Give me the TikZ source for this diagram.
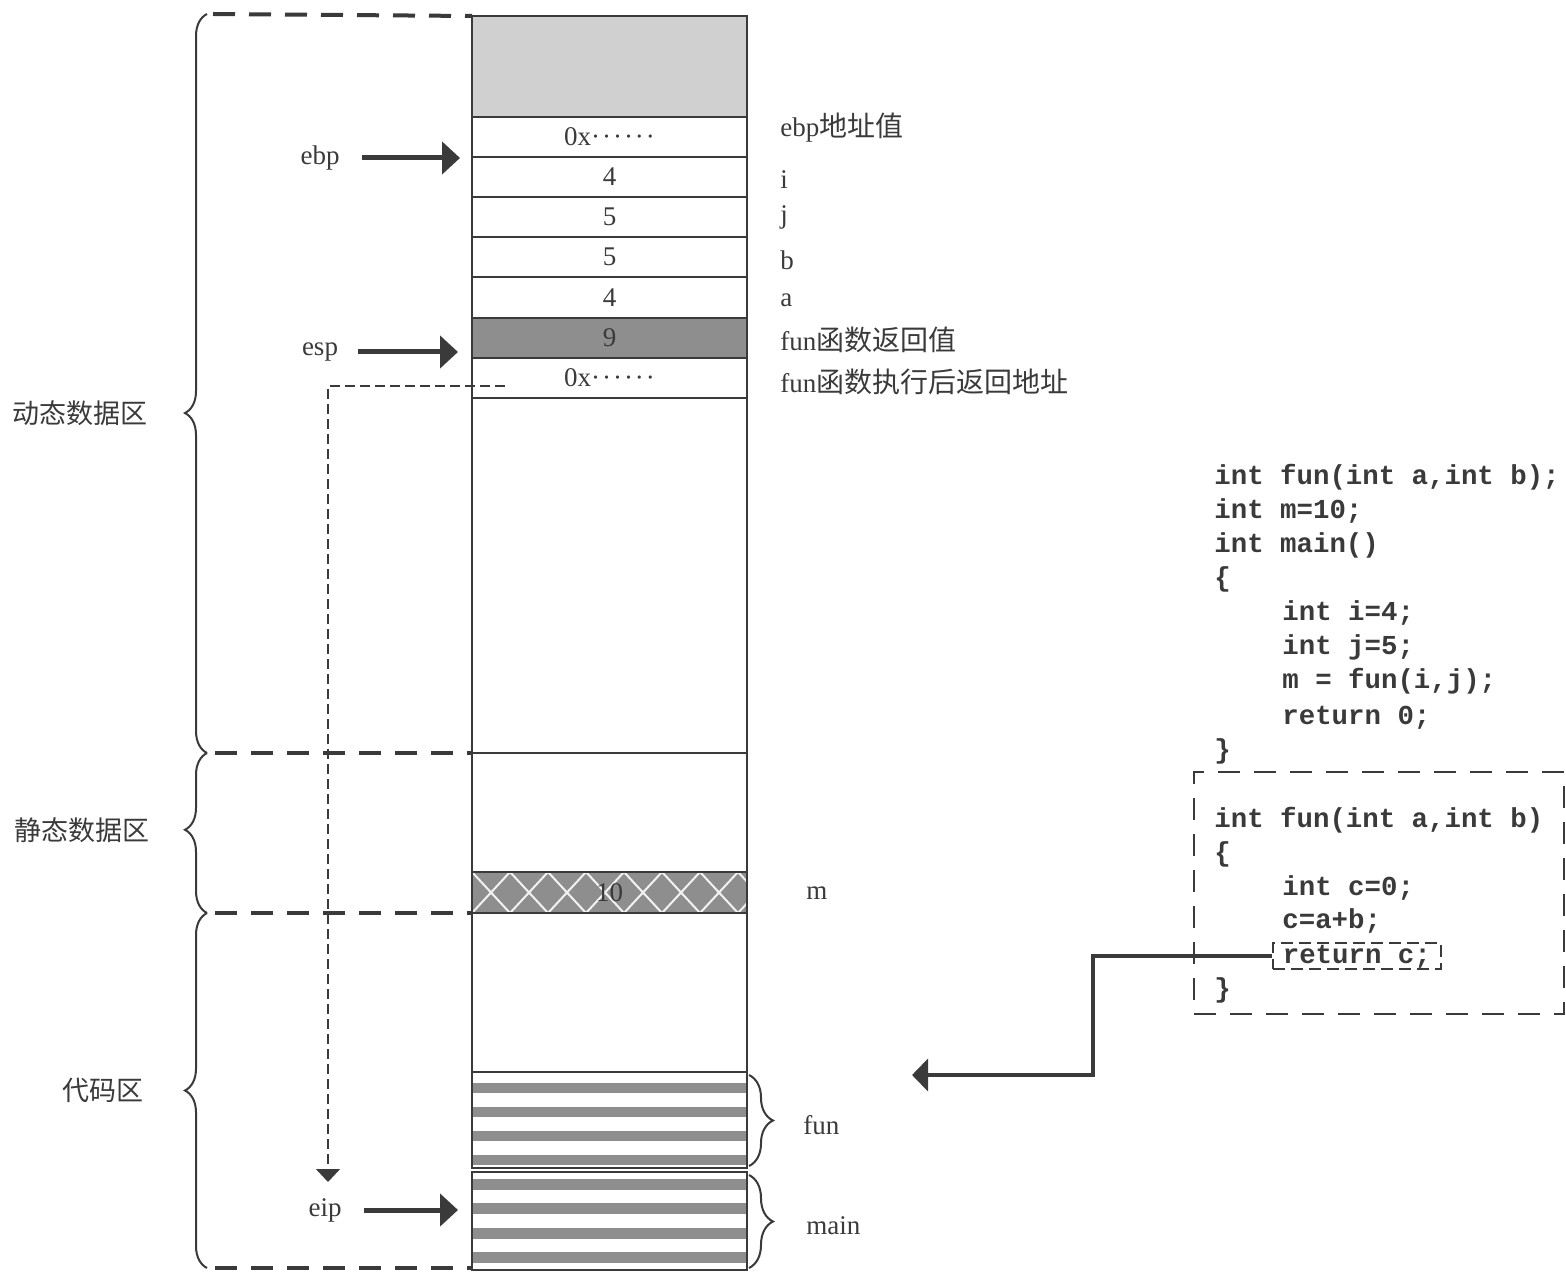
\documentclass[tikz,border=0pt]{standalone}
\usepackage{fontspec}
\setmainfont{Liberation Serif}
\setmonofont{Liberation Mono}
\newfontfamily\cjk{Noto Sans CJK SC}
\usetikzlibrary{arrows.meta,decorations.pathreplacing}
\definecolor{ink}{HTML}{3a3a3a}
\definecolor{lightfill}{HTML}{d0d0d0}
\definecolor{darkfill}{HTML}{8e8e8e}
\newcommand\zhtxt[1]{{\cjk\fontsize{14}{16}\selectfont #1}}
\newcommand\hexdots{0x·\kern1pt·\kern1pt·\kern1pt·\kern1pt·\kern1pt·}
\begin{document}
\begin{tikzpicture}[x=0.5pt,y=-0.5pt,
  cellbox/.style={draw=ink, line width=1pt, inner sep=0pt, outer sep=0pt,
    minimum width=137.5pt, anchor=north west, text=ink,
    font=\fontsize{13.5}{15}\selectfont},
  lbl/.style={text=ink, inner sep=0pt, font=\fontsize{13.5}{15}\selectfont},
  rlbl/.style={lbl, anchor=west},
  zone/.style={text=ink, inner sep=0pt, font=\cjk\fontsize{13.5}{15}\selectfont},
  code/.style={anchor=base west, inner sep=0pt, text=ink,
    font=\ttfamily\bfseries\fontsize{13.7}{17}\selectfont},
  ptr/.style={draw=ink, line width=2.5pt, -{Triangle[length=9pt,width=16pt]}},
  retarrow/.style={draw=ink, line width=2.2pt, -{Triangle[length=8pt,width=16pt]}},
  thinptr/.style={draw=ink, line width=0.7pt, dash pattern=on 5pt off 2.5pt,
    -{Triangle[length=6.5pt,width=12pt]}},
  zoneline/.style={draw=ink, line width=2pt, dash pattern=on 11pt off 7pt},
  brc/.style={draw=ink, line width=1pt, decorate},
]
\useasboundingbox (0,0) rectangle (1566,1272);

% ---- patterns (drawn first) ----
\begin{scope}
  \clip (472,872) rectangle (747,913);
  \fill[darkfill] (472,872) rectangle (747,913);
  \foreach \k in {-1,...,8}{
    \draw[white!90!gray, line width=1pt] (472+\k*38,872) -- (510+\k*38,913);
    \draw[white!90!gray, line width=1pt] (510+\k*38,872) -- (472+\k*38,913);
  }
\end{scope}
\foreach \s in {1083,1107,1131,1155}{
  \fill[darkfill] (472,\s) rectangle (747,\s+10);
}
\foreach \s in {1179,1203,1228,1252}{
  \fill[darkfill] (472,\s) rectangle (747,\s+11);
}

% ---- memory column ----
\node[cellbox, fill=lightfill, minimum height=50.5pt] (top) at (472,16) {};
\node[cellbox, minimum height=20pt] (c1) at (472,117) {\hexdots};
\node[cellbox, minimum height=20pt] (c2) at (472,157) {4};
\node[cellbox, minimum height=20pt] (c3) at (472,197) {5};
\node[cellbox, minimum height=20pt] (c4) at (472,237) {5};
\node[cellbox, minimum height=20.5pt] (c5) at (472,277) {4};
\node[cellbox, fill=darkfill, minimum height=20pt] (c6) at (472,318) {9};
\node[cellbox, minimum height=20pt] (c7) at (472,358) {\hexdots};
\node[cellbox, minimum height=177.5pt] (dynfree) at (472,398) {};
\node[cellbox, minimum height=59.5pt] (statfree) at (472,753) {};
\node[cellbox, minimum height=20.5pt] (mcell) at (472,872) {10};
\node[cellbox, minimum height=79.5pt] (codefree) at (472,913) {};
\node[cellbox, minimum height=48pt] (funcode) at (472,1072) {};
\node[cellbox, minimum height=49pt] (maincode) at (472,1172) {};

% ---- zone separators ----
\draw[zoneline] (213,14) -- (top.north west);
\draw[zoneline] (215,753) -- (statfree.north west);
\draw[zoneline] (215,913) -- (codefree.north west);
\draw[zoneline] (215,1268) -- (472,1268);

% ---- left braces and zone labels ----
\draw[brc, decoration={brace, amplitude=11pt, aspect=0.46}] (207,753) -- (207,14);
\draw[brc, decoration={brace, amplitude=11pt, aspect=0.52}] (207,913) -- (207,753);
\draw[brc, decoration={brace, amplitude=11pt, aspect=0.50}] (207,1268) -- (207,913);
\node[zone] (zdyn) at (80,413) {动态数据区};
\node[zone] (zstat) at (82,830) {静态数据区};
\node[zone] (zcode) at (103,1090) {代码区};

% ---- register pointers ----
\node[lbl] (ebp) at (320,158) {ebp};
\node[lbl] (esp) at (320,352) {esp};
\node[lbl] (eip) at (325,1210) {eip};
\draw[ptr, shorten <=11pt, shorten >=6pt] (ebp.east) -- (ebp.east -| top.west);
\draw[ptr, shorten <=10pt, shorten >=7pt] (esp.east) -- (esp.east -| top.west);
\draw[ptr, shorten <=11pt, shorten >=7pt] (eip.east) -- (eip.east -| top.west);

% ---- return address dashed pointer ----
\coordinate (dstart) at (505,386);
\coordinate (dcorner) at (328,386);
\coordinate (dend) at (328,1182);
\draw[thinptr] (dstart) -- (dcorner) -- (dend);

% ---- right labels ----
\node[rlbl] (lebp) at (780,128) {ebp\zhtxt{地址值}};
\node[rlbl] (li) at (780,180) {i};
\node[rlbl] (lj) at (780,217) {j};
\node[rlbl] (lb) at (780,260) {b};
\node[rlbl] (la) at (780,300) {a};
\node[rlbl] (lret) at (780,340) {fun\zhtxt{函数返回值}};
\node[rlbl] (lraddr) at (780,382) {fun\zhtxt{函数执行后返回地址}};
\node[rlbl] (lm) at (806,893) {m};
\node[rlbl] (lfun) at (803,1125) {fun};
\node[rlbl] (lmain) at (806,1226) {main};
\draw[brc, decoration={brace, amplitude=12pt}] (749,1075) -- (749,1166);
\draw[brc, decoration={brace, amplitude=12pt}] (749,1175) -- (749,1268);

% ---- source code ----
\node[code] (k1) at (1214,484) {int fun(int a,int b);};
\node[code] (k2) at (1214,518) {int m=10;};
\node[code] (k3) at (1214,552) {int main()};
\node[code] (k4) at (1214,586) {\{};
\node[code] (k5) at (1282,620) {int i=4;};
\node[code] (k6) at (1282,654) {int j=5;};
\node[code] (k7) at (1282,688) {m = fun(i,j);};
\node[code] (k8) at (1282,724) {return 0;};
\node[code] (k9) at (1214,758) {\}};

\node[draw=ink, line width=1.2pt, dash pattern=on 11pt off 7pt, inner sep=0pt,
  minimum width=185pt, minimum height=121pt, anchor=north west] (funbox) at (1193,771) {};
\node[code] (f1) at (1214,827) {int fun(int a,int b)};
\node[code] (f2) at (1214,861) {\{};
\node[code] (f3) at (1282,895) {int c=0;};
\node[code] (f4) at (1282,928) {c=a+b;};
\node[code, draw=ink, line width=0.8pt, dash pattern=on 6pt off 3pt,
  inner xsep=5pt, inner ysep=1pt, text height=9pt, text depth=2pt] (rc) at (1272,963) {return c;};
\node[code] (f6) at (1214,997) {\}};

\coordinate (turn) at (1093,1075);
\coordinate (retend) at (912,1075);
\draw[retarrow] (rc.west) -| (turn) -- (retend);
\end{tikzpicture}
\end{document}
